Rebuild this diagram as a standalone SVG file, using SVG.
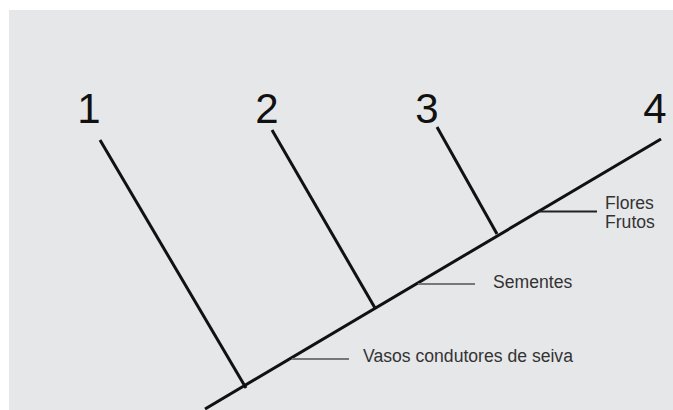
<svg xmlns="http://www.w3.org/2000/svg" width="673" height="410" viewBox="0 0 673 410">
<style>
.num{font-family:"Liberation Sans",Arial,sans-serif;font-size:42px;fill:#111;text-anchor:middle}
.lbl{font-family:"Liberation Sans",Arial,sans-serif;font-size:17.6px;fill:#333}
.br{stroke:#111;stroke-width:3;fill:none}
.tick{stroke:#777;stroke-width:2;fill:none}
</style>
<rect x="0" y="0" width="673" height="410" fill="#fff"/>
<rect x="9" y="10" width="664" height="400" fill="#e6e7e9"/>
<g id="connectors">
<line class="br" x1="205" y1="409" x2="661" y2="139"/>
<line class="br" x1="100" y1="140" x2="246" y2="388"/>
<line class="br" x1="272" y1="130" x2="375" y2="308"/>
<line class="br" x1="437" y1="127" x2="497" y2="234"/>
<line class="tick" x1="538" y1="211.5" x2="597" y2="211.5" style="stroke:#222"/>
<line class="tick" x1="418" y1="284" x2="475" y2="284"/>
<line class="tick" x1="292" y1="359" x2="349" y2="359"/>
</g>
<g id="n1"><text class="num" x="89" y="123">1</text></g>
<g id="n2"><text class="num" x="267" y="123">2</text></g>
<g id="n3"><text class="num" x="427" y="123">3</text></g>
<g id="n4"><text class="num" x="655" y="123">4</text></g>
<g id="flores"><text class="lbl" x="605" y="209">Flores</text><text class="lbl" x="605" y="228">Frutos</text></g>
<g id="sementes"><text class="lbl" x="493" y="288">Sementes</text></g>
<g id="vasos"><text class="lbl" x="363" y="362">Vasos condutores de seiva</text></g>
</svg>
